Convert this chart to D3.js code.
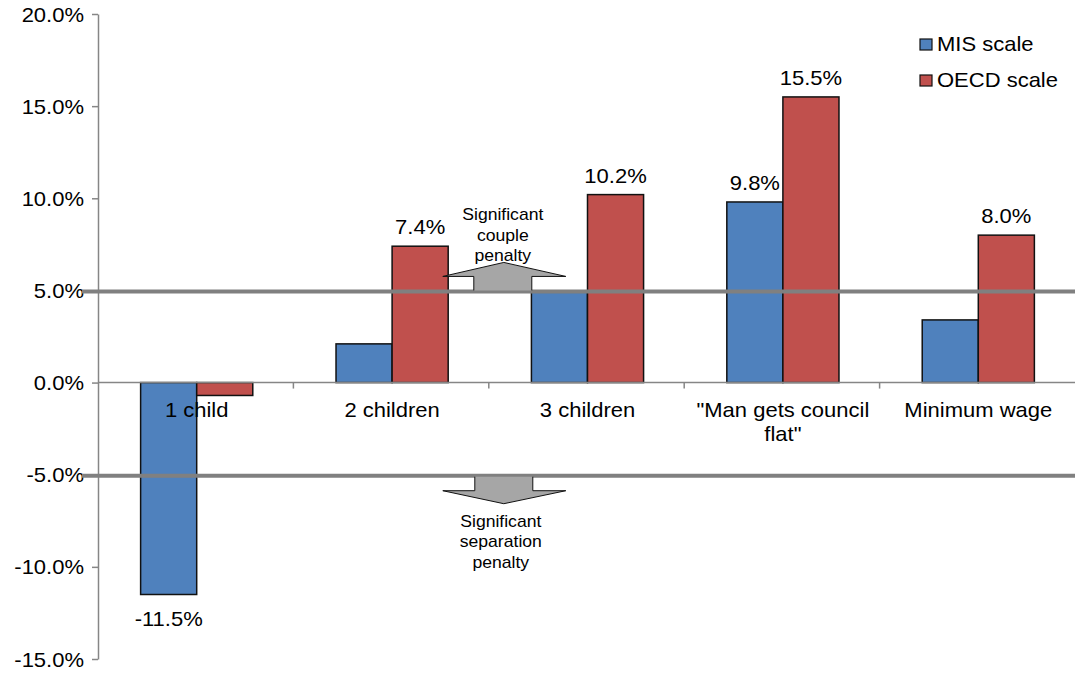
<!DOCTYPE html>
<html>
<head>
<meta charset="utf-8">
<script src="https://cdn.jsdelivr.net/npm/d3@7"></script>
<style>
  html, body { margin: 0; padding: 0; background: #fff; }
  svg { display: block; font-family: "Liberation Sans", Arial, sans-serif; }
</style>
</head>
<body>
<svg id="chart" width="1075" height="673"></svg>
<script>
// Change in income by household scenario, two equivalence scales (%)
const categories = ["1 child", "2 children", "3 children", "\"Man gets council flat\"", "Minimum wage"];
const seriesNames = ["MIS scale", "OECD scale"];
const misValues = [-11.5, 2.1, 4.9, 9.8, 3.4];
const oecdValues = [-0.7, 7.4, 10.2, 15.5, 8.0];
const misShowLabel = [true, false, false, true, false];
const oecdShowLabel = [false, true, true, true, true];
const yTicks = [-15, -10, -5, 0, 5, 10, 15, 20];
const thresholds = [5, -5];
const coupleNote = ["Significant", "couple", "penalty"];
const separationNote = ["Significant", "separation", "penalty"];

const colors = { "MIS scale": "#4F81BD", "OECD scale": "#C0504D" };
const axisGray = "#868686";
const SX = 1.1; // horizontal text stretch

const svg = d3.select("#chart");

const x = d3.scaleBand().domain(categories).range([98, 1075]).paddingInner(0).paddingOuter(0);
const y = d3.scaleLinear().domain([-15, 20]).range([659, 14]);
const groupFrac = 0.574;
const inner = d3.scaleBand().domain(seriesNames)
  .range([0, x.bandwidth() * groupFrac]).padding(0);
const groupOffset = x.bandwidth() * (1 - groupFrac) / 2 + 1;

function stretchedText(sel, tx, ty, str, anchor, size) {
  return sel.append("text")
    .attr("transform", `translate(${tx},${ty}) scale(${SX},1)`)
    .attr("text-anchor", anchor)
    .attr("font-size", size)
    .attr("fill", "#000")
    .text(str);
}

// Y axis
const yAxis = d3.axisLeft(y).tickValues(yTicks).tickSize(6).tickSizeOuter(0)
  .tickFormat(d => d.toFixed(1) + "%");
const gy = svg.append("g").attr("transform", "translate(98,0)").call(yAxis);
gy.select(".domain").attr("stroke", axisGray).attr("stroke-width", 1.5);
gy.selectAll(".tick line").attr("stroke", axisGray).attr("stroke-width", 1.5);
gy.selectAll(".tick text")
  .attr("x", -14 / SX)
  .attr("dy", null)
  .attr("y", 7)
  .attr("transform", `scale(${SX},1)`)
  .attr("font-size", 20)
  .attr("font-family", "Liberation Sans, Arial, sans-serif")
  .attr("fill", "#000");

// Bars
const rows = categories.map((c, i) => ({ c, i, vals: [
  { s: "MIS scale", v: misValues[i], show: misShowLabel[i] },
  { s: "OECD scale", v: oecdValues[i], show: oecdShowLabel[i] }
]}));

const groups = svg.append("g").selectAll("g").data(rows).join("g")
  .attr("transform", d => `translate(${x(d.c) + groupOffset},0)`);

groups.selectAll("rect").data(d => d.vals).join("rect")
  .attr("x", d => inner(d.s))
  .attr("width", inner.bandwidth())
  .attr("y", d => y(Math.max(0, d.v)))
  .attr("height", d => Math.abs(y(d.v) - y(0)))
  .attr("fill", d => colors[d.s])
  .attr("stroke", "#111")
  .attr("stroke-width", 1.5);

// Zero line with category separators
const zeroG = svg.append("g");
zeroG.append("line")
  .attr("x1", 98).attr("x2", 1075)
  .attr("y1", y(0)).attr("y2", y(0))
  .attr("stroke", axisGray).attr("stroke-width", 1.5);
categories.slice(1).forEach(c => {
  zeroG.append("line")
    .attr("x1", x(c)).attr("x2", x(c))
    .attr("y1", y(0)).attr("y2", y(0) + 6)
    .attr("stroke", axisGray).attr("stroke-width", 1.5);
});

// Category labels (wrapped)
function wrapLines(str, maxW, size) {
  const ctx = document.createElement("canvas").getContext("2d");
  ctx.font = `${size}px "Liberation Sans", Arial, sans-serif`;
  const words = str.split(" ");
  const lines = [];
  let cur = "";
  words.forEach(w => {
    const t = cur ? cur + " " + w : w;
    if (ctx.measureText(t).width * SX > maxW && cur) { lines.push(cur); cur = w; }
    else cur = t;
  });
  if (cur) lines.push(cur);
  return lines;
}
const labG = svg.append("g");
categories.forEach(c => {
  const lines = wrapLines(c, x.bandwidth() - 8, 20);
  lines.forEach((ln, k) => {
    stretchedText(labG, x(c) + groupOffset + inner.range()[1] / 2, 417 + k * 24, ln, "middle", 20);
  });
});

// Threshold lines at +/-5%
thresholds.forEach(t => {
  svg.append("line")
    .attr("x1", 82).attr("x2", 1075)
    .attr("y1", y(t) + 1).attr("y2", y(t) + 1)
    .attr("stroke", "#808080").attr("stroke-width", 4);
});

// Value labels
const valG = svg.append("g");
rows.forEach(r => {
  r.vals.forEach(d => {
    if (!d.show) return;
    const cx = x(r.c) + groupOffset + inner(d.s) + inner.bandwidth() / 2;
    const ty = d.v >= 0 ? y(d.v) - 12 : y(d.v) + 31;
    stretchedText(valG, cx, ty, d.v.toFixed(1) + "%", "middle", 20);
  });
});

// Penalty arrows
const ax = x(categories[2]) + 15;
const upBase = y(thresholds[0]);
const upArrow = [
  [ax - 30, upBase], [ax - 30, upBase - 14], [ax - 61, upBase - 14], [ax, upBase - 28],
  [ax + 62, upBase - 14], [ax + 28, upBase - 14], [ax + 28, upBase]
];
const downBase = y(thresholds[1]) + 2;
const downArrow = [
  [ax - 29, downBase], [ax - 29, downBase + 14], [ax - 61, downBase + 14], [ax, downBase + 27],
  [ax + 62, downBase + 14], [ax + 29, downBase + 14], [ax + 29, downBase]
];
[upArrow, downArrow].forEach(pts => {
  svg.append("path")
    .attr("d", d3.line()(pts))
    .attr("fill", "#A6A6A6")
    .attr("stroke", "#111")
    .attr("stroke-width", 1);
});

const noteG = svg.append("g");
coupleNote.forEach((t, k) => {
  stretchedText(noteG, ax - 1, upBase - 70 + k * 20.5, t, "middle", 16);
});
separationNote.forEach((t, k) => {
  stretchedText(noteG, ax - 3, y(thresholds[1]) + 52 + k * 20.5, t, "middle", 16);
});

// Legend
const legG = svg.append("g");
seriesNames.forEach((s, k) => {
  const ly = 51 + k * 36;
  legG.append("rect")
    .attr("x", 920).attr("y", ly - 12)
    .attr("width", 12).attr("height", 11)
    .attr("fill", colors[s]).attr("stroke", "#111").attr("stroke-width", 1.2);
  stretchedText(legG, 937, ly, s, "start", 20);
});
</script>
</body>
</html>
